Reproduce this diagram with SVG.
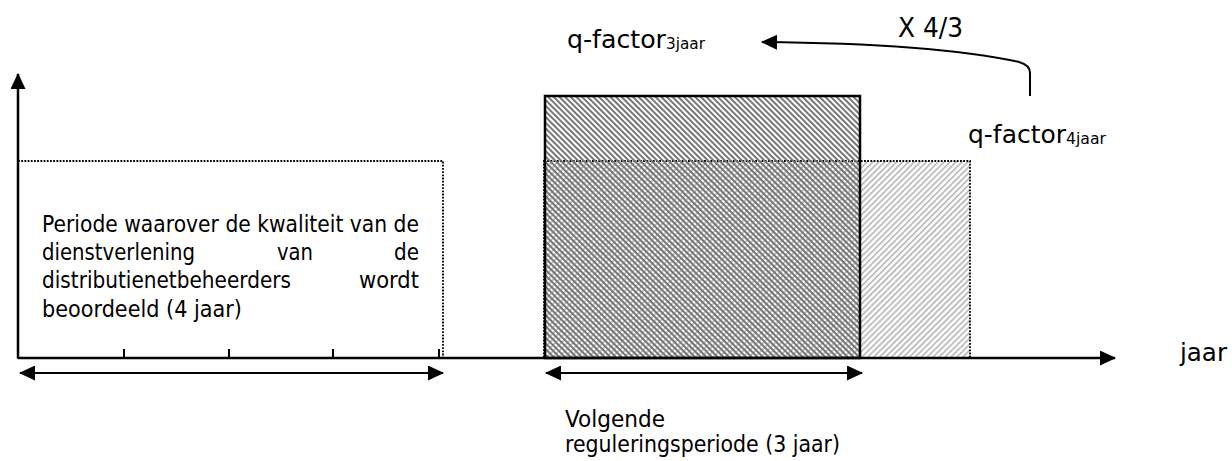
<svg xmlns="http://www.w3.org/2000/svg" width="1232" height="461" viewBox="0 0 1232 461">
  <style>
    .t { font-family: "DejaVu Sans", "Liberation Sans", sans-serif; fill: #000; }
    .p { font-size: 22.5px; }
    .axis { stroke: #000; stroke-width: 2.5; fill: none; }
    .dbl { stroke: #000; stroke-width: 2; fill: none; }
    .dot { stroke: #000; stroke-width: 1.8; stroke-dasharray: 1.8 1.4; fill: none; }
    .tick { stroke: #000; stroke-width: 2; }
  </style>
  <defs>
    <marker id="ah" viewBox="0 0 16 15" refX="15" refY="7.5" markerWidth="16" markerHeight="15" markerUnits="userSpaceOnUse" orient="auto-start-reverse">
      <path d="M0,0 L16,7.5 L0,15 z" fill="#000"/>
    </marker>
    <pattern id="hatchDark" patternUnits="userSpaceOnUse" width="4" height="4" patternTransform="rotate(45)">
      <rect x="0" y="0" width="4" height="1.9" fill="#707070"/>
    </pattern>
    <pattern id="hatchLight" patternUnits="userSpaceOnUse" width="4.2" height="4.2" patternTransform="rotate(-45)">
      <rect x="0" y="0" width="4.2" height="1.8" fill="#bdbdbd"/>
    </pattern>
  </defs>

  <g id="period4">
    <rect x="18" y="161" width="425" height="197" class="dot"/>
    <text class="t p" x="42" y="232" textLength="377" lengthAdjust="spacingAndGlyphs">Periode waarover de kwaliteit van de</text>
    <text class="t p" x="42" y="260" textLength="153" lengthAdjust="spacingAndGlyphs">dienstverlening</text>
    <text class="t p" x="277" y="260" textLength="36" lengthAdjust="spacingAndGlyphs">van</text>
    <text class="t p" x="394" y="260" textLength="25" lengthAdjust="spacingAndGlyphs">de</text>
    <text class="t p" x="42" y="288" textLength="249" lengthAdjust="spacingAndGlyphs">distributienetbeheerders</text>
    <text class="t p" x="359" y="288" textLength="60" lengthAdjust="spacingAndGlyphs">wordt</text>
    <text class="t p" x="42" y="317" textLength="200" lengthAdjust="spacingAndGlyphs">beoordeeld (4 jaar)</text>
  </g>

  <g id="q4year">
    <rect x="544" y="161" width="426" height="197" fill="url(#hatchLight)"/>
    <rect x="544" y="161" width="426" height="197" class="dot"/>
    <text class="t" x="968" y="143" font-size="25" textLength="98" lengthAdjust="spacingAndGlyphs">q-factor</text>
    <text class="t" x="1066" y="144" font-size="15" textLength="40" lengthAdjust="spacingAndGlyphs">4jaar</text>
  </g>

  <g id="q3year">
    <rect x="545" y="96" width="315" height="262" fill="url(#hatchDark)"/>
    <rect x="545" y="96" width="315" height="262" fill="none" stroke="#000" stroke-width="2.5"/>
    <text class="t" x="567" y="48" font-size="25" textLength="99" lengthAdjust="spacingAndGlyphs">q-factor</text>
    <text class="t" x="666" y="49" font-size="15" textLength="39" lengthAdjust="spacingAndGlyphs">3jaar</text>
  </g>

  <g id="axes">
    <line x1="18" y1="358" x2="18" y2="74" class="axis" marker-end="url(#ah)"/>
    <line x1="18" y1="358" x2="1115" y2="358" class="axis" marker-end="url(#ah)"/>
    <line x1="124" y1="349" x2="124" y2="358" class="tick"/>
    <line x1="229" y1="349" x2="229" y2="358" class="tick"/>
    <line x1="333" y1="349" x2="333" y2="358" class="tick"/>
    <line x1="439" y1="349" x2="439" y2="358" class="tick"/>
    <text class="t" x="1180" y="361" font-size="25" textLength="47" lengthAdjust="spacingAndGlyphs">jaar</text>
  </g>

  <g id="labels">
    <text class="t" x="898" y="37" font-size="26" textLength="65" lengthAdjust="spacingAndGlyphs">X 4/3</text>
    <text class="t" x="565" y="427" font-size="23" textLength="100" lengthAdjust="spacingAndGlyphs">Volgende</text>
    <text class="t" x="565" y="452" font-size="23" textLength="275" lengthAdjust="spacingAndGlyphs">reguleringsperiode (3 jaar)</text>
  </g>

  <g id="connectors">
    <line x1="20" y1="373" x2="443" y2="373" class="dbl" marker-start="url(#ah)" marker-end="url(#ah)"/>
    <line x1="546" y1="373" x2="862" y2="373" class="dbl" marker-start="url(#ah)" marker-end="url(#ah)"/>
    <path d="M1030,96 L1030,73 Q1030,65 1019,62 C960,49 880,43 762,42" class="dbl" marker-end="url(#ah)"/>
  </g>
</svg>
